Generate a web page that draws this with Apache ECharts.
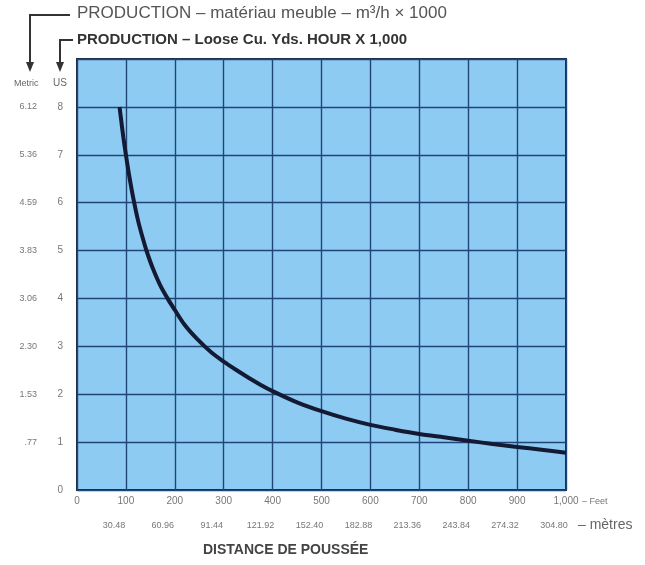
<!DOCTYPE html>
<html>
<head>
<meta charset="utf-8">
<script src="https://cdn.jsdelivr.net/npm/echarts@6/dist/echarts.min.js"></script>
<style>
html,body{margin:0;padding:0;background:#ffffff;}
#chart{width:645px;height:565px;}
</style>
</head>
<body>
<div id="chart"></div>
<script>
// ---- data ----
var distanceFeet = [87, 90, 95, 100, 107, 115, 125, 135, 143, 155, 170, 187, 200, 220, 245, 275, 300, 325, 350, 375, 400, 450, 500, 550, 600, 650, 700, 750, 800, 850, 900, 950, 1000];
var productionUS = [8.0, 7.75, 7.35, 7.0, 6.55, 6.1, 5.62, 5.24, 4.97, 4.63, 4.28, 3.97, 3.76, 3.45, 3.16, 2.87, 2.68, 2.51, 2.35, 2.2, 2.065, 1.83, 1.645, 1.49, 1.36, 1.26, 1.17, 1.1, 1.03, 0.96, 0.9, 0.84, 0.78];
var usTicks = ['0', '1', '2', '3', '4', '5', '6', '7', '8'];
var metricTicks = ['', '.77', '1.53', '2.30', '3.06', '3.83', '4.59', '5.36', '6.12'];
var feetTicks = ['0', '100', '200', '300', '400', '500', '600', '700', '800', '900', '1,000'];
var metreTicks = ['', '30.48', '60.96', '91.44', '121.92', '152.40', '182.88', '213.36', '243.84', '274.32', '304.80'];
var titleMetric = 'PRODUCTION – matériau meuble – m³/h × 1000';
var titleUS = 'PRODUCTION – Loose Cu. Yds. HOUR X 1,000';
var xTitle = 'DISTANCE DE POUSSÉE';

var FONT = "'Liberation Sans Narrow', 'Liberation Sans', Arial, sans-serif";
var FONT2 = "'Liberation Sans', Arial, sans-serif";
var chart = echarts.init(document.getElementById('chart'));

var curve = distanceFeet.map(function (x, i) { return [x, productionUS[i]]; });

chart.setOption({
  backgroundColor: '#ffffff',
  animation: false,
  grid: {
    left: 77, right: 79, top: 59, bottom: 75,
    show: true, backgroundColor: '#8ecbf3', borderColor: '#1b2c44', borderWidth: 2
  },
  xAxis: [{
    type: 'value', min: 0, max: 1000, interval: 100, position: 'bottom',
    axisLine: { show: false }, axisTick: { show: false },
    splitLine: { show: true, lineStyle: { color: '#1f4677', width: 1.4 } },
    axisLabel: {
      margin: 6, color: '#777', fontFamily: FONT, fontSize: 10,
      formatter: function (v) { return feetTicks[Math.round(v / 100)]; }
    }
  }, {
    type: 'value', min: 0, max: 1000, interval: 100, position: 'bottom', offset: 26,
    axisLine: { show: false }, axisTick: { show: false }, splitLine: { show: false },
    axisLabel: {
      margin: 5, color: '#777', fontFamily: FONT, fontSize: 9, padding: [0, 24, 0, 0],
      formatter: function (v) { return metreTicks[Math.round(v / 100)]; }
    }
  }],
  yAxis: [{
    type: 'value', min: 0, max: 9, interval: 1, position: 'left',
    axisLine: { show: false }, axisTick: { show: false },
    splitLine: { show: true, lineStyle: { color: '#1f4677', width: 1.4 } },
    axisLabel: {
      margin: 14, color: '#777', fontFamily: FONT, fontSize: 10,
      formatter: function (v) { var s = usTicks[Math.round(v)]; return s === undefined ? '' : s; }
    }
  }, {
    type: 'value', min: 0, max: 9, interval: 1, position: 'left',
    axisLine: { show: false }, axisTick: { show: false }, splitLine: { show: false },
    axisLabel: {
      margin: 40, color: '#777', fontFamily: FONT, fontSize: 9,
      formatter: function (v) { var s = metricTicks[Math.round(v)]; return s === undefined ? '' : s; }
    }
  }],
  series: [{
    type: 'line', xAxisIndex: 0, yAxisIndex: 0, data: curve, smooth: 0.3,
    symbol: 'none', lineStyle: { color: '#141a33', width: 4 }
  }],
  graphic: [
    { type: 'polyline', shape: { points: [[70, 15], [30, 15], [30, 64]] }, style: { stroke: '#333', lineWidth: 2, fill: null } },
    { type: 'polygon', shape: { points: [[26, 62], [34, 62], [30, 72]] }, style: { fill: '#333' } },
    { type: 'polyline', shape: { points: [[73, 40], [60, 40], [60, 64]] }, style: { stroke: '#333', lineWidth: 2, fill: null } },
    { type: 'polygon', shape: { points: [[56, 62], [64, 62], [60, 72]] }, style: { fill: '#333' } },
    { type: 'text', left: 77, top: 5, style: { text: titleMetric, font: '17px ' + FONT2, fill: '#555' } },
    { type: 'text', left: 77, top: 32, style: { text: titleUS, font: 'bold 15px ' + FONT2, fill: '#333' } },
    { type: 'text', left: 14, top: 79, style: { text: 'Metric', font: '9px ' + FONT, fill: '#666' } },
    { type: 'text', left: 53, top: 78, style: { text: 'US', font: '10px ' + FONT, fill: '#666' } },
    { type: 'text', left: 582, top: 497, style: { text: '– Feet', font: '9px ' + FONT, fill: '#777' } },
    { type: 'text', left: 578, top: 518, style: { text: '– mètres', font: '14px ' + FONT2, fill: '#666' } },
    { type: 'text', left: 203, top: 543, style: { text: xTitle, font: 'bold 14px ' + FONT2, fill: '#444' } }
  ]
});
</script>
</body>
</html>
